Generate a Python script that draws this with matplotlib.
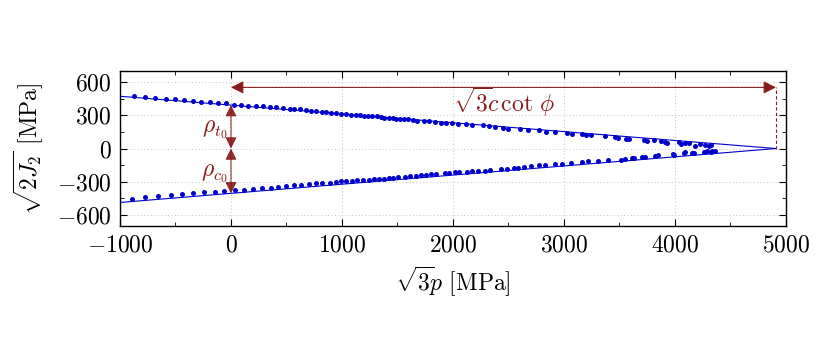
import numpy as np
import matplotlib
matplotlib.use('Agg')
import matplotlib.pyplot as plt

plt.rcParams['font.family'] = 'serif'
plt.rcParams['font.serif'] = ['cmr10']
plt.rcParams['mathtext.fontset'] = 'cm'
plt.rcParams['axes.formatter.use_mathtext'] = True

# fitted envelope: apex on the p axis, intercepts at p = 0
apex = 4910.0
rho_t = 392.0
rho_c = 405.0
line_x = [-1000.0, apex]

# upper branch (tension meridian) points
up_x = [-871, -776, -683, -587, -503, -422, -344, -270, -192, -117, -42, 27, 93, 156, 222,
        288, 350, 410, 470, 530, 569, 623, 674, 722, 770, 821, 860, 901, 949, 994, 1039,
        1084, 1123, 1159, 1195, 1234, 1273, 1312, 1348, 1378, 1423, 1459, 1489, 1524, 1563,
        1599, 1638, 1674, 1737, 1788, 1842, 1893, 1938, 1992, 2049, 2117, 2168, 2267, 2327,
        2381, 2447, 2498, 2603, 2680, 2776, 2842, 2920, 3031, 3070, 3166, 3202, 3243, 3369,
        3459, 3483, 3561, 3585, 3717, 3747, 3810, 3870, 3914, 3929, 4034, 4058, 4088, 4124,
        4184, 4229, 4268, 4304, 4325]
up_y = [477, 468, 459, 450, 444, 438, 429, 423, 417, 411, 408, 396, 393, 387, 384,
        381, 375, 372, 366, 360, 357, 354, 351, 339, 336, 330, 327, 324, 321, 315, 309,
        306, 303, 300, 297, 294, 291, 291, 285, 279, 276, 273, 270, 267, 264,
        264, 261, 249, 249, 246, 237, 234, 231, 231, 225, 219, 213, 210, 204,
        195, 189, 180, 180, 171, 165, 153, 147, 144, 135, 132, 123, 120, 114,
        105, 99, 90, 87, 81, 69, 75, 66, 60, 54, 57, 42, 51, 48,
        27, 39, 36, 27, 33]

# lower branch (compression meridian)
lo_x = [-892, -773, -659, -539, -443, -338, -240, -144, -60, 39, 117, 201, 279, 356, 428,
        494, 566, 635, 704, 764, 818, 889, 949, 988, 1039, 1090, 1138, 1189, 1243, 1288,
        1333, 1378, 1423, 1459, 1509, 1572, 1617, 1668, 1713, 1758, 1803, 1848, 1929, 1968,
        2022, 2052, 2123, 2171, 2228, 2288, 2336, 2432, 2483, 2552, 2582, 2642, 2701, 2776,
        2830, 2920, 2980, 3061, 3160, 3219, 3309, 3399, 3510, 3549, 3615, 3630, 3699, 3729,
        3819, 3849, 3980, 3989, 4079, 4088, 4154, 4169, 4259, 4289, 4334, 4364, 4328]
lo_y = [-454, -442, -433, -421, -415, -406, -397, -391, -385, -376, -373, -367, -361, -355, -346,
        -340, -334, -328, -322, -316, -316, -310, -304, -295, -292, -289, -286, -286, -280, -277,
        -274, -271, -268, -262, -256, -253, -250, -244, -241, -238, -232, -229, -223, -220,
        -214, -211, -208, -205, -202, -199, -193, -187, -184, -175, -172, -163, -157, -151,
        -148, -136, -138, -132, -123, -117, -111, -105, -102, -96, -90, -84, -81, -75,
        -69, -60, -51, -57, -45, -36, -45, -39, -33, -21, -21, -27, -30]

red = '#8b1a1a'
blue = '#0000cc'

fig = plt.figure(figsize=(8.31, 3.46), dpi=100)
ax = fig.add_axes([0.1444, 0.3468, 0.8014, 0.448])

upper_line = [rho_t * (1 - x / apex) for x in line_x]
lower_line = [-rho_c * (1 - x / apex) for x in line_x]
ax.plot(line_x, upper_line, color=blue, lw=0.8, zorder=3)
ax.plot(line_x, lower_line, color=blue, lw=0.8, zorder=3)
ax.plot(up_x, up_y, 'o', color=blue, ms=3.6, mew=0, zorder=4)
ax.plot(lo_x, lo_y, 'o', color=blue, ms=3.6, mew=0, zorder=4)

# annotations
arr = dict(arrowstyle='<|-|>', color=red, lw=0.8, mutation_scale=19, shrinkA=0, shrinkB=0)
ax.annotate('', xy=(0, 552), xytext=(apex, 552), arrowprops=arr, zorder=5)
ax.plot([apex, apex], [0, 552], ls=(0, (3, 2)), color=red, lw=0.8, zorder=5)
ax.text(2460, 417, r'$\sqrt{3}\!c\,\cot\,\phi$', color=red, fontsize=17, ha='center', va='center')

arr2 = dict(arrowstyle='<|-|>', color=red, lw=0.8, mutation_scale=17, shrinkA=0, shrinkB=0,
            alpha=0.9)
ax.annotate('', xy=(0, rho_t), xytext=(0, 0), arrowprops=arr2, zorder=5)
ax.annotate('', xy=(0, -rho_c), xytext=(0, 0), arrowprops=arr2, zorder=5)
ax.text(-30, 170, r'$\rho_{t_0}$', color=red, fontsize=17, ha='right', va='center')
ax.text(-30, -230, r'$\rho_{c_0}$', color=red, fontsize=17, ha='right', va='center')

ax.set_xlim(-1000, 5000)
ax.set_ylim(-700, 700)
ax.set_xticks(np.arange(-1000, 5001, 1000))
ax.set_yticks([-600, -300, 0, 300, 600])
ax.set_xticks(np.arange(-1000, 5001, 500), minor=True)
ax.set_yticks(np.arange(-600, 601, 150), minor=True)
ax.tick_params(which='both', direction='in', top=True, right=True, labelsize=17)
ax.tick_params(which='major', length=5, width=0.8, pad=6)
ax.tick_params(which='minor', length=3, width=0.6)
ax.grid(True, which='major', ls=(0, (1, 2.5)), color='#c0c0c0', lw=0.7)
ax.set_axisbelow(True)
for s in ax.spines.values():
    s.set_linewidth(1.0)

ax.set_xlabel(r'$\sqrt{3}\!p$ [MPa]', fontsize=17, labelpad=6)
ax.set_ylabel(r'$\sqrt{2J_2}$ [MPa]', fontsize=17, labelpad=8)

fig.savefig('out.png', dpi=100)
